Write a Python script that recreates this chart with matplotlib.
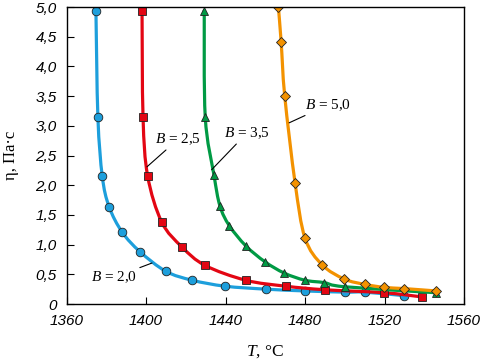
import numpy as np
import matplotlib
matplotlib.use("Agg")
import matplotlib.pyplot as plt
from matplotlib.path import Path
from matplotlib.patches import PathPatch
from matplotlib.ticker import FuncFormatter

plt.rcParams.update({
    "font.family": "Liberation Serif",
    "mathtext.fontset": "custom",
    "mathtext.rm": "Liberation Serif",
    "mathtext.it": "Liberation Serif:italic",
})

# viscosity curves
t_b20 = [1374.8, 1375.8, 1378.0, 1381.4, 1388.0, 1397.0, 1410.0, 1423.3, 1439.8,
         1460.4, 1480.0, 1500.0, 1510.0, 1530.0]
eta_b20 = [4.94, 3.14, 2.15, 1.64, 1.21, 0.88, 0.55, 0.40, 0.30,
           0.25, 0.22, 0.20, 0.20, 0.14]

t_b25 = [1398.0, 1398.5, 1400.8, 1407.9, 1418.1, 1429.7, 1450.2, 1470.3, 1490.0,
         1519.9, 1538.7]
eta_b25 = [4.94, 3.15, 2.16, 1.38, 0.96, 0.65, 0.40, 0.30, 0.24, 0.19, 0.12]

t_b35 = [1429.3, 1429.8, 1434.2, 1437.2, 1441.9, 1450.2, 1459.9, 1469.6, 1480.0,
         1489.7, 1500.1, 1546.0]
eta_b35 = [4.94, 3.15, 2.17, 1.65, 1.32, 0.98, 0.71, 0.52, 0.40, 0.36, 0.29, 0.19]

t_b50 = [1466.6, 1468.0, 1469.8, 1475.0, 1480.0, 1488.6, 1499.8, 1510.2, 1519.9,
         1529.8, 1545.9]
eta_b50 = [5.0, 4.41, 3.50, 2.04, 1.11, 0.66, 0.42, 0.33, 0.28, 0.26, 0.22]

BLUE, RED, GREEN, ORANGE = "#1d9fdc", "#e30613", "#009a44", "#f39200"


def smooth_path(x, y):
    # Catmull-Rom through the points, drawn as cubic Bezier segments
    p = np.column_stack([x, y])
    ext = np.vstack([p[0], p, p[-1]])
    verts, codes = [p[0]], [Path.MOVETO]
    for i in range(len(p) - 1):
        p0, p1, p2, p3 = ext[i], ext[i + 1], ext[i + 2], ext[i + 3]
        verts += [p1 + (p2 - p0) / 6, p2 - (p3 - p1) / 6, p2]
        codes += [Path.CURVE4] * 3
    return Path(verts, codes)


fig = plt.figure(figsize=(4.83, 3.63), dpi=100)
ax = fig.add_axes([0.1377, 0.1625, 0.8230, 0.8182])

series = [
    (t_b20, eta_b20, BLUE, "o", 6.2),
    (t_b25, eta_b25, RED, "s", 5.4),
    (t_b35, eta_b35, GREEN, "^", 6.2),
    (t_b50, eta_b50, ORANGE, "D", 5.2),
]
for i, (t, eta, col, mk, ms) in enumerate(series):
    ax.add_patch(PathPatch(smooth_path(t, eta), fill=False, edgecolor=col, lw=2.3,
                           capstyle="round", joinstyle="round", zorder=2 + i * 0.1))
    ax.plot(t, eta, ls="none", marker=mk, ms=ms, mfc=col, mec="#222222", mew=0.6,
            zorder=2.05 + i * 0.1)

ax.set_xlim(1360, 1560)
ax.set_ylim(0, 5.0)
ax.set_xticks(range(1360, 1561, 40))
ax.set_yticks([i * 0.5 for i in range(11)])
ax.yaxis.set_major_formatter(FuncFormatter(
    lambda v, p: "0" if v == 0 else f"{v:.1f}".replace(".", ",")))
ax.tick_params(direction="in", length=5, width=0.8, top=False, right=False, pad=7)
for lab in ax.get_xticklabels() + ax.get_yticklabels():
    lab.set_family("Liberation Sans")
    lab.set_style("italic")
    lab.set_fontsize(11)
for sp in ax.spines.values():
    sp.set_linewidth(1.0)

ax.set_xlabel("$T$, °C", fontsize=12.5, labelpad=11)
ax.set_ylabel("η, Па·с", fontsize=12, labelpad=12)

arrow = dict(arrowstyle="-", color="black", lw=0.8, shrinkA=0, shrinkB=0)
ax.annotate("$B$ = 2,5", xy=(1400.5, 2.31), xytext=(1404.5, 2.64),
            ha="left", va="bottom", fontsize=11, arrowprops=arrow)
ax.annotate("$B$ = 3,5", xy=(1433.0, 2.26), xytext=(1439.0, 2.74),
            ha="left", va="bottom", fontsize=11, arrowprops=arrow)
ax.annotate("$B$ = 5,0", xy=(1472.0, 3.05), xytext=(1480.0, 3.22),
            ha="left", va="bottom", fontsize=11, arrowprops=arrow)
ax.annotate("$B$ = 2,0", xy=(1403.0, 0.69), xytext=(1395.5, 0.58),
            ha="right", va="top", fontsize=11, arrowprops=arrow)

fig.savefig("out.png", dpi=100)
